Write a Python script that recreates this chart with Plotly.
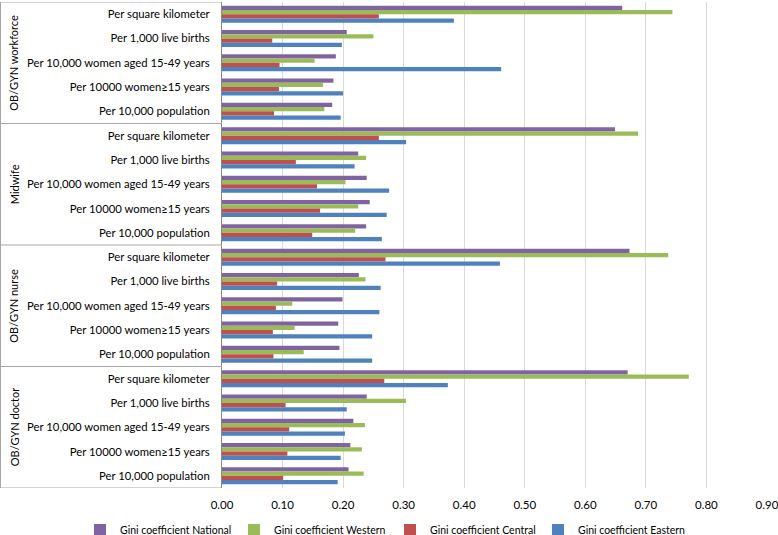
import plotly.graph_objects as go

groups = ["OB/GYN workforce", "Midwife", "OB/GYN nurse", "OB/GYN doctor"]
categories = ["Per square kilometer", "Per 1,000 live births",
              "Per 10,000 women aged 15-49 years", "Per 10000 women≥15 years",
              "Per 10,000 population"]
series_names = ["Gini coefficient National", "Gini coefficient Western",
                "Gini coefficient Central", "Gini coefficient Eastern"]
colors = ["#8064A2", "#9BBB59", "#C0504D", "#4F81BD"]

# values per group (top to bottom), category order as in `categories`
national = [0.661, 0.206, 0.188, 0.184, 0.182,
            0.649, 0.225, 0.239, 0.244, 0.238,
            0.673, 0.226, 0.199, 0.192, 0.194,
            0.670, 0.239, 0.217, 0.212, 0.209]
western = [0.744, 0.250, 0.153, 0.167, 0.169,
           0.687, 0.238, 0.204, 0.225, 0.220,
           0.737, 0.237, 0.116, 0.120, 0.135,
           0.771, 0.304, 0.236, 0.231, 0.234]
central = [0.259, 0.083, 0.095, 0.094, 0.086,
           0.259, 0.122, 0.157, 0.162, 0.149,
           0.270, 0.091, 0.089, 0.084, 0.085,
           0.268, 0.105, 0.111, 0.108, 0.101]
eastern = [0.383, 0.198, 0.461, 0.200, 0.196,
           0.304, 0.219, 0.276, 0.272, 0.264,
           0.459, 0.262, 0.260, 0.248, 0.248,
           0.373, 0.206, 0.203, 0.196, 0.191]
x_ticks = [0.0, 0.1, 0.2, 0.3, 0.4, 0.5, 0.6, 0.7, 0.8, 0.9]

n_cat = len(categories)
ypos = [g * n_cat + c for g in range(len(groups)) for c in range(n_cat)]
ylabels = [categories[c] for g in range(len(groups)) for c in range(n_cat)]

FONT = "Lato, Carlito, 'Open Sans', sans-serif"
W, H = 778, 535
L, R, T, B = 222, 11, 2, 47
pw = W - L - R
xl = -L / pw  # paper x of the left page edge

legend_ids = ["legend", "legend2", "legend3", "legend4"]
legend_x_px = [80, 234, 390, 538]

fig = go.Figure()
for name, vals, col, lid in zip(series_names, [national, western, central, eastern],
                                colors, legend_ids):
    fig.add_trace(go.Bar(y=ypos, x=vals, name=name, orientation="h", legend=lid,
                         marker=dict(color=col, line=dict(width=0))))

shapes = [dict(type="line", xref="paper", yref="y", x0=xl + 0.5 / pw, x1=xl + 0.5 / pw,
               y0=-0.5, y1=len(ypos) - 0.5, line=dict(color="#a6a6a6", width=1))]
for g in range(len(groups) + 1):
    yb = g * n_cat - 0.5
    shapes.append(dict(type="line", xref="paper", yref="y", x0=xl, x1=0,
                       y0=yb, y1=yb, line=dict(color="#a6a6a6", width=1)))

annotations = []
for g, gname in enumerate(groups):
    annotations.append(dict(text=gname, xref="paper", yref="y", x=xl + 14 / pw,
                            y=g * n_cat + (n_cat - 1) / 2, textangle=-90, showarrow=False,
                            font=dict(family=FONT, size=11, color="#000000"),
                            xanchor="center", yanchor="middle"))

legend_common = dict(orientation="h", xref="container", yref="container",
                     xanchor="left", y=1 - 530 / H, yanchor="middle",
                     font=dict(family=FONT, size=10.5, color="#000000"),
                     itemwidth=30, bgcolor="rgba(0,0,0,0)", borderwidth=0)
legends = {}
for lid, lx in zip(legend_ids, legend_x_px):
    legends[lid] = dict(legend_common, x=lx / W)

fig.update_layout(
    width=W, height=H,
    margin=dict(l=L, r=R, t=T, b=B, autoexpand=False),
    barmode="group", bargap=0.3, bargroupgap=0,
    plot_bgcolor="white", paper_bgcolor="white",
    font=dict(family=FONT, size=12, color="#000000"),
    shapes=shapes, annotations=annotations,
    showlegend=True,
    **legends,
)
fig.update_xaxes(range=[0, 0.9001], tickvals=x_ticks, tickformat=".2f",
                 showgrid=True, gridcolor="#d9d9d9", gridwidth=1,
                 zeroline=False, showline=False, ticks="", automargin=False,
                 ticklabeloverflow="allow",
                 ticklabelstandoff=8, tickfont=dict(size=11.5))
fig.update_yaxes(tickvals=ypos, ticktext=ylabels, range=[len(ypos) - 0.5, -0.5],
                 showgrid=False, zeroline=False, showline=True, automargin=False,
                 linecolor="#868686", linewidth=1, ticks="",
                 ticklabelstandoff=9, tickfont=dict(size=11.3))
fig.write_html("out.html", config={"displayModeBar": False},
               post_script="document.body.style.margin='0';")
